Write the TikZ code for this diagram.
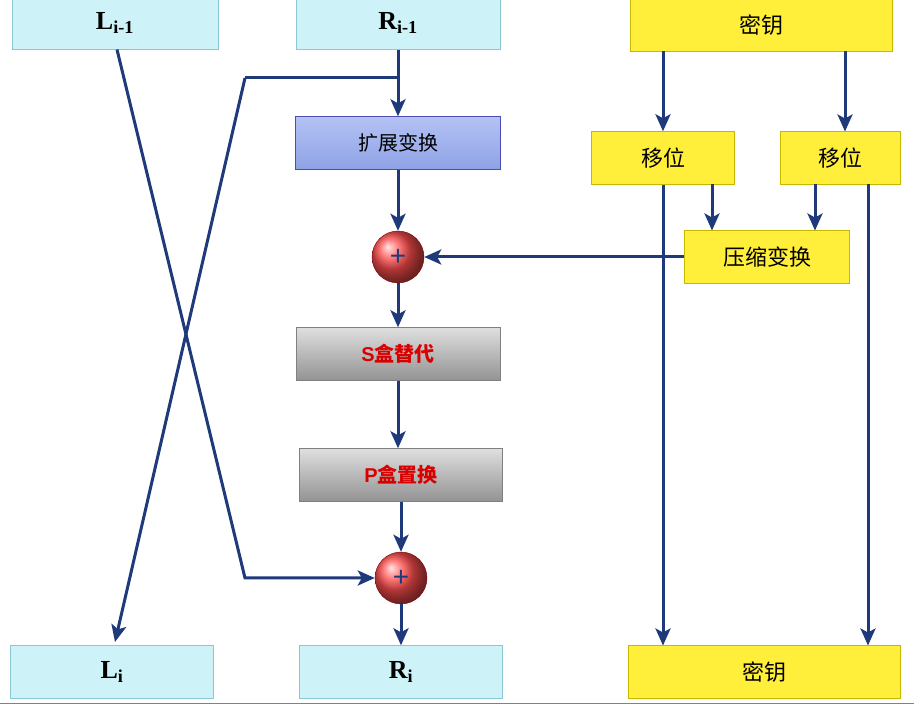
\documentclass[tikz,border=0pt]{standalone}
\usepackage{fontspec}
\setmainfont{Liberation Serif}
\newfontfamily\cjk{Noto Sans CJK SC}
\newfontfamily\arl{Liberation Sans}
\usetikzlibrary{arrows.meta}
\definecolor{ln}{HTML}{1F3A7A}
\definecolor{cy}{HTML}{CDF3F8}
\definecolor{cyb}{HTML}{8CC8D4}
\definecolor{yl}{HTML}{FFEF3A}
\definecolor{ylb}{HTML}{C9B800}
\definecolor{bt}{HTML}{B4C2F4}
\definecolor{bb}{HTML}{8EA2E6}
\begin{document}
\begin{tikzpicture}[x=1pt,y=-1pt,
 cn/.style={draw=ln,line width=3pt},
 arr/.style={cn,-{Stealth[length=17pt,width=15pt,inset=4pt]}},
 bx/.style={minimum height=53pt,inner sep=0pt,draw},
 cyan/.style={bx,fill=cy,draw=cyb,font=\bfseries\fontsize{26}{26}\selectfont},
 yel/.style={bx,fill=yl,draw=ylb,font=\cjk\fontsize{22}{22}\selectfont},
 gray/.style={bx,draw=gray,top color=gray!25,bottom color=gray!85,font=\cjk\bfseries\fontsize{20}{20}\selectfont\color{red!85!black}},
 xr/.style={circle,minimum size=52pt,inner sep=0pt,draw=red!50!black,ball color=red!70!white,font=\arl\fontsize{28}{28}\selectfont\color{ln}}]
\useasboundingbox (0,0) rectangle (914,708);
\fill[white] (0,0) rectangle (914,708);
\draw[red!70,line width=1pt] (0,703) -- (914,703);
\node[cyan,minimum width=206pt] (L1) at (115,23) {L\textsubscript{i-1}};
\node[cyan,minimum width=204pt] (R1) at (398,23) {R\textsubscript{i-1}};
\node[yel,minimum width=262pt] (K1) at (761,25) {密钥};
\node[bx,minimum width=205pt,draw=blue!40!gray,top color=bt,bottom color=bb,font=\cjk\fontsize{20}{20}\selectfont] (E) at (398,143) {扩展变换};
\node[xr] (X1) at (398,257) {+};
\node[gray,minimum width=204pt] (S) at (398,354) {{\arl S}盒替代};
\node[gray,minimum width=203pt] (P) at (401,475) {{\arl P}盒置换};
\node[xr] (X2) at (401,578) {+};
\node[cyan,minimum width=203pt] (L2) at (112,672) {L\textsubscript{i}};
\node[cyan,minimum width=203pt] (R2) at (401,672) {R\textsubscript{i}};
\node[yel,minimum width=272pt] (K2) at (764,672) {密钥};
\node[yel,minimum width=143pt] (M1) at (663,158) {移位};
\node[yel,minimum width=120pt] (M2) at (840,158) {移位};
\node[yel,minimum width=165pt] (C) at (767,257) {压缩变换};
\coordinate (a) at (398,78);
\coordinate (b) at (245,78);
\coordinate (c) at (245,578);
\draw[cn] (R1.south) -- (a) -- (b);
\draw[arr] (a) -- (E.north);
\draw[arr] (b) -- (115,642);
\draw[arr] (117,49.5) -- (c) -- (X2.west);
\draw[arr] (E) -- (X1);
\draw[arr] (X1) -- (S);
\draw[arr] (S.south) -- (S.south|-P.north);
\draw[arr] (P.south-|X2) -- (X2);
\draw[arr] (X2) -- (R2);
\draw[arr] (663,51) -- (M1.north);
\draw[arr] (845,51) -- (845,131.5);
\draw[arr] (M1.south) -- (663,645.5);
\draw[arr] (868,184.5) -- (868,645.5);
\draw[arr] (712,184.5) -- (712,230.5);
\draw[arr] (815,184.5) -- (815,230.5);
\draw[arr] (C.west) -- (X1.east);
\end{tikzpicture}
\end{document}
